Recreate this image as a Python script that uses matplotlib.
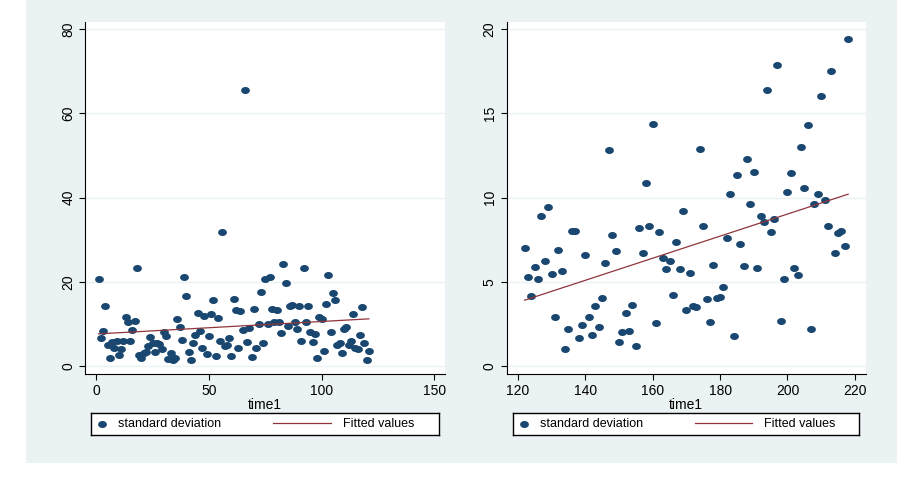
import numpy as np
import matplotlib.pyplot as plt
from matplotlib.patches import Rectangle

plt.rcParams['font.family'] = ['Liberation Sans', 'DejaVu Sans']

NAVY = '#1A476F'
MAROON = '#90353B'
BG = '#EAF2F3'

# first period, time1 = 1..121
time_a = list(range(1, 122))
sd_a = [20.7, 6.6, 8.4, 14.2, 5.1, 2.0, 5.7, 4.3, 6.1, 2.6,
        4.1, 6.0, 11.6, 10.4, 6.0, 8.5, 10.7, 23.2, 2.6, 2.05,
        3.1, 3.5, 4.7, 6.9, 5.5, 3.4, 5.5, 5.3, 4.1, 8.1,
        7.2, 1.7, 3.1, 1.6, 2.0, 11.2, 9.3, 6.2, 21.1, 16.7,
        3.3, 1.5, 5.6, 7.4, 12.6, 8.4, 4.4, 12.0, 2.9, 7.3,
        12.3, 15.8, 2.5, 11.5, 6.0, 31.8, 4.7, 5.0, 6.7, 2.4,
        16.0, 13.4, 4.3, 13.0, 8.5, 65.5, 5.8, 9.0, 2.2, 13.5,
        4.4, 10.0, 17.7, 5.6, 20.7, 10.0, 21.2, 13.7, 10.6, 13.4,
        10.6, 7.8, 24.3, 19.8, 9.5, 14.3, 14.6, 10.6, 8.9, 14.2,
        6.0, 23.4, 10.4, 14.2, 8.2, 5.8, 7.7, 2.05, 11.7, 11.3,
        3.6, 14.7, 21.6, 8.1, 17.3, 15.8, 5.0, 5.5, 3.2, 8.9,
        9.2, 5.1, 6.1, 12.4, 4.4, 4.0, 7.4, 14.0, 5.6, 1.5,
        3.6]

# second period, time1 = 122..218
time_b = list(range(122, 219))
sd_b = [7.0, 5.3, 4.15, 5.9, 5.15, 8.9, 6.25, 9.45, 5.45, 2.95,
        6.9, 5.65, 1.0, 2.2, 8.05, 8.05, 1.7, 2.45, 6.6, 2.95,
        1.85, 3.6, 2.35, 4.05, 6.1, 12.85, 7.8, 6.85, 1.45, 2.05,
        3.15, 2.1, 3.65, 1.2, 8.2, 6.7, 10.9, 8.35, 14.4, 2.55,
        7.95, 6.45, 5.75, 6.25, 4.2, 7.4, 5.75, 9.2, 3.35, 5.55,
        3.55, 3.5, 12.9, 8.35, 4.0, 2.65, 6.0, 4.05, 4.1, 4.7,
        7.6, 10.2, 1.8, 11.35, 7.25, 5.95, 12.3, 9.6, 11.5, 5.85,
        8.9, 8.55, 16.4, 7.95, 8.75, 17.85, 2.7, 5.2, 10.35, 11.45,
        5.85, 5.4, 13.0, 10.6, 14.3, 2.2, 9.6, 10.2, 16.05, 9.85,
        8.3, 17.5, 6.7, 7.9, 8.0, 7.15, 19.45]

xticks_a = [0, 50, 100, 150]
yticks_a = [0, 20, 40, 60, 80]
xticks_b = [120, 140, 160, 180, 200, 220]
yticks_b = [0, 5, 10, 15, 20]

# slightly wide oval marker like the stata output
t = np.linspace(0, 2 * np.pi, 40)
oval = np.c_[1.25 * np.cos(t), np.sin(t)]

fig = plt.figure(figsize=(9.15, 4.8), dpi=100)
fig.patches.append(Rectangle((26 / 915, 17 / 480), 871 / 915, 463 / 480,
                             transform=fig.transFigure, facecolor=BG,
                             edgecolor='none', zorder=-10))


def panel(rect, legrect, x, y, xticks, yticks, xlim, ylim):
    ax = fig.add_axes(rect)
    ax.set_facecolor('white')
    for s in ['top', 'right']:
        ax.spines[s].set_visible(False)
    for s in ['left', 'bottom']:
        ax.spines[s].set_linewidth(0.8)
    ax.set_axisbelow(True)
    ax.yaxis.grid(True, color=BG, linewidth=1.0)

    pts = ax.scatter(x, y, s=40, marker=oval, color=NAVY, linewidths=0,
                     zorder=3, label='standard deviation')
    b, a = np.polyfit(x, y, 1)
    xs = np.array([min(x), max(x)])
    fit, = ax.plot(xs, a + b * xs, color=MAROON, linewidth=0.9, zorder=4,
                   label='Fitted values')

    ax.set_xlim(*xlim)
    ax.set_ylim(*ylim)
    ax.set_xticks(xticks)
    ax.set_yticks(yticks)
    ax.tick_params(axis='both', length=4.3, width=0.8, labelsize=10, pad=3)
    plt.setp(ax.get_yticklabels(), rotation=90, va='center')
    ax.set_xlabel('time1', fontsize=10, labelpad=0)

    lax = fig.add_axes(legrect)
    lax.set_xticks([])
    lax.set_yticks([])
    for s in lax.spines.values():
        s.set_linewidth(1.0)
        s.set_color('black')
    lg1 = lax.legend(handles=[pts], loc='center left', bbox_to_anchor=(0.012, 0.5),
                     frameon=False, fontsize=9, handlelength=1.0, handletextpad=0.8,
                     borderpad=0, borderaxespad=0, scatterpoints=1)
    lax.add_artist(lg1)
    lax.legend(handles=[fit], loc='center left', bbox_to_anchor=(0.524, 0.5),
               frameon=False, fontsize=9, handlelength=4.6, handletextpad=0.95,
               borderpad=0, borderaxespad=0)
    return ax


panel([85.3 / 915, 106 / 480, 359.7 / 915, 352 / 480],
      [91.3 / 915, 45 / 480, 347.4 / 915, 21.7 / 480],
      time_a, sd_a, xticks_a, yticks_a, (-4.9, 154.8), (-1.83, 81.66))
panel([506.7 / 915, 106 / 480, 359 / 915, 352 / 480],
      [513.3 / 915, 45 / 480, 346 / 915, 21.7 / 480],
      time_b, sd_b, xticks_b, yticks_b, (116.7, 223.2), (-0.46, 20.43))

fig.savefig('out.png', dpi=100, facecolor='white')
